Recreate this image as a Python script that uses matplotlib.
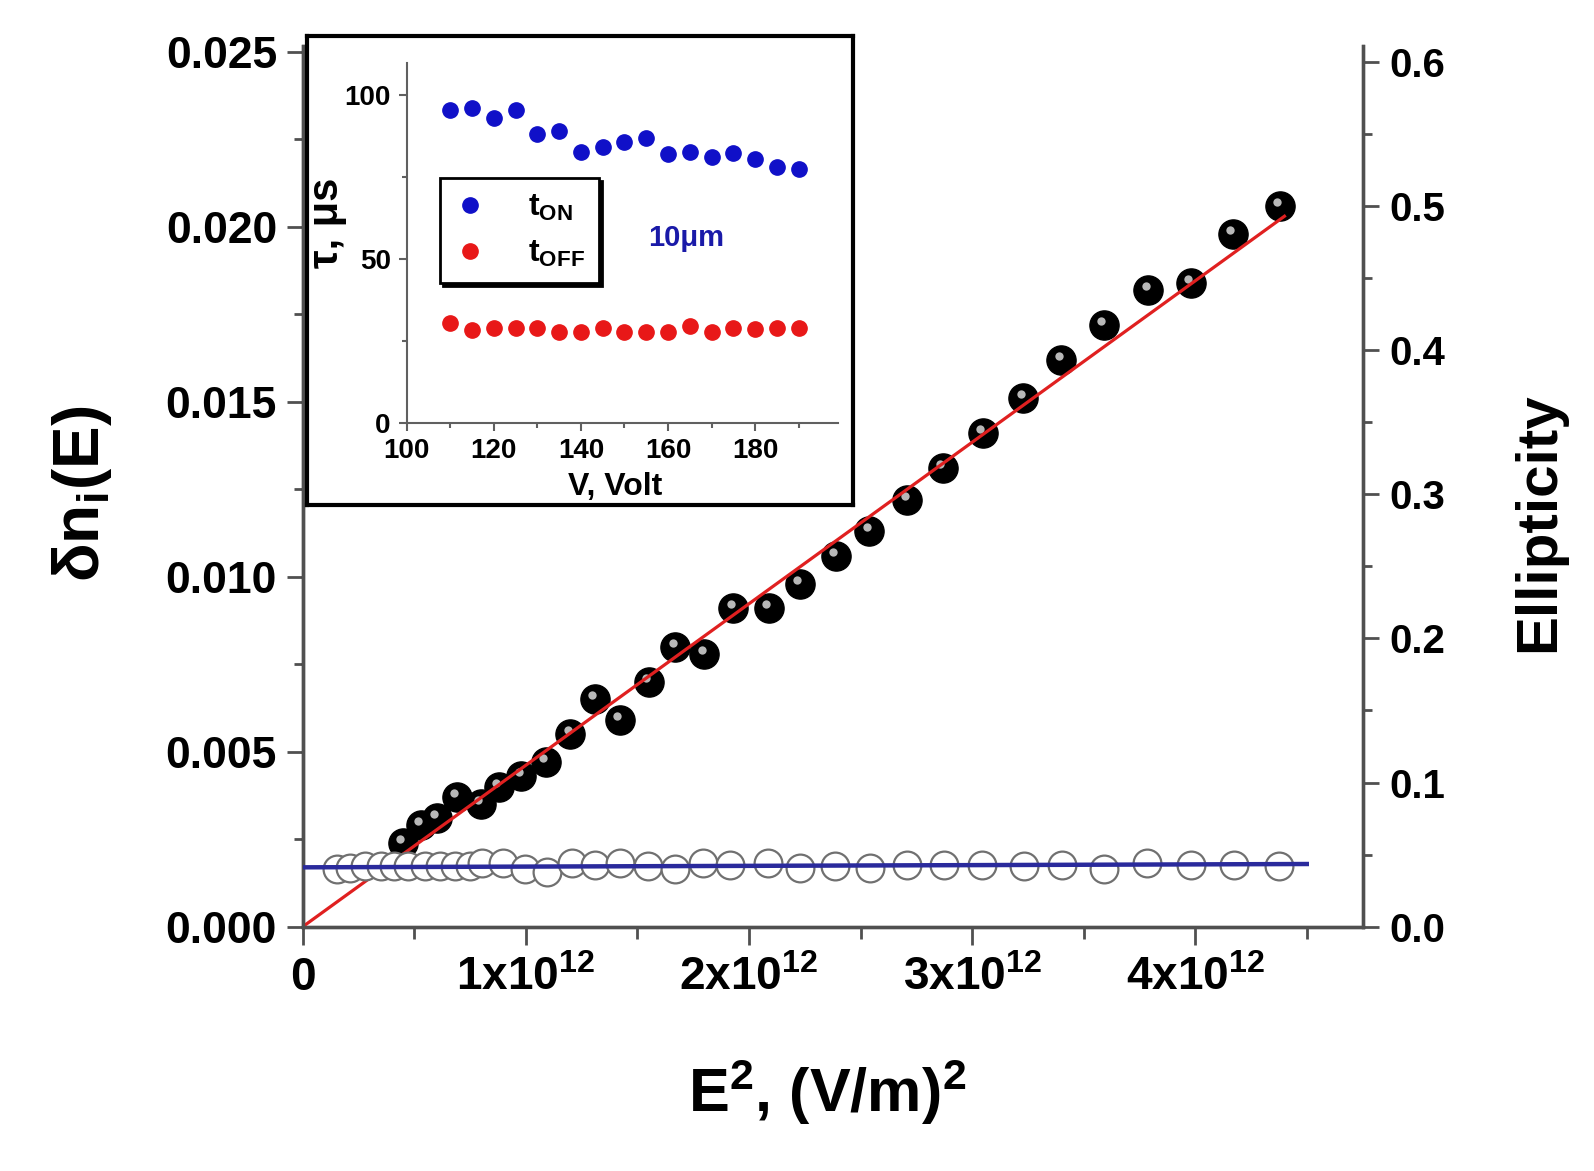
import matplotlib
matplotlib.use("Agg")
import matplotlib.pyplot as plt
import matplotlib.transforms as mtransforms
from matplotlib.ticker import FixedLocator, FixedFormatter, MultipleLocator, FormatStrFormatter
from matplotlib.lines import Line2D

plt.rcParams['font.family'] = ['Liberation Sans', 'DejaVu Sans']
plt.rcParams['font.weight'] = 'bold'
plt.rcParams['mathtext.fontset'] = 'custom'
plt.rcParams['mathtext.rm'] = 'Liberation Sans:bold'
plt.rcParams['mathtext.it'] = 'Liberation Sans:bold'
plt.rcParams['mathtext.bf'] = 'Liberation Sans:bold'
plt.rcParams['mathtext.sf'] = 'Liberation Sans:bold'

# main plot: birefringence dn_i(E) vs E^2 (filled) and ellipticity (open)
e2_dn = [0.45, 0.53, 0.60, 0.69, 0.80, 0.88, 0.98, 1.09, 1.20, 1.31, 1.42, 1.55, 1.67, 1.80, 1.93,
         2.09, 2.23, 2.39, 2.54, 2.71, 2.87, 3.05, 3.23, 3.40, 3.59, 3.79, 3.98, 4.17, 4.38]
dn = [0.0024, 0.0029, 0.0031, 0.0037, 0.0035, 0.0040, 0.0043, 0.0047, 0.0055, 0.0065, 0.0059, 0.0070,
      0.0080, 0.0078, 0.0091, 0.0091, 0.0098, 0.0106, 0.0113, 0.0122, 0.0131, 0.0141, 0.0151, 0.0162,
      0.0172, 0.0182, 0.0184, 0.0198, 0.0206]
fit_dn_x = [0.0, 4.40]
fit_dn_y = [0.0, 0.0203]

e2_ell = [0.152, 0.212, 0.279, 0.35, 0.41, 0.47, 0.548, 0.615, 0.683, 0.75, 0.803, 0.898, 0.997, 1.094,
          1.206, 1.311, 1.423, 1.548, 1.669, 1.795, 1.916, 2.087, 2.23, 2.387, 2.544, 2.707, 2.873,
          3.045, 3.231, 3.404, 3.59, 3.785, 3.979, 4.173, 4.375]
ell = [0.040, 0.041, 0.042, 0.042, 0.042, 0.042, 0.042, 0.042, 0.042, 0.042, 0.044, 0.044, 0.040,
       0.038, 0.044, 0.043, 0.044, 0.042, 0.040, 0.044, 0.043, 0.044, 0.041, 0.042, 0.041, 0.043,
       0.043, 0.043, 0.042, 0.043, 0.040, 0.044, 0.043, 0.043, 0.042]
fit_ell_x = [0.0, 4.50]
fit_ell_y = [0.0412, 0.0435]

xtick_vals = [0, 1, 2, 3, 4]
xtick_labels = ['0', '1x10$^{12}$', '2x10$^{12}$', '3x10$^{12}$', '4x10$^{12}$']

# inset: response times vs voltage
volts = [110, 115, 120, 125, 130, 135, 140, 145, 150, 155, 160, 165, 170, 175, 180, 185, 190]
t_on = [95.4, 96.2, 92.9, 95.6, 88.3, 89.0, 82.7, 84.3, 85.8, 86.8, 82.0, 82.7, 81.2, 82.4, 80.4,
        78.2, 77.4]
t_off = [30.5, 28.4, 29.1, 29.1, 29.1, 27.9, 27.9, 29.1, 27.9, 27.9, 27.9, 29.6, 27.9, 29.1, 28.7,
         29.1, 29.1]

scale = 1e12
ex = [v * scale for v in e2_dn]
ee = [v * scale for v in e2_ell]

fig = plt.figure(figsize=(15.94, 11.71), dpi=100)
ax = fig.add_axes([0.1899, 0.2086, 0.6649, 0.7523])
ax2 = ax.twinx()

ax.plot(ex, dn, 'o', color='black', ms=21, mec='black', zorder=3)
# small highlight on each ball
hl = mtransforms.offset_copy(ax.transData, fig=fig, x=-2, y=3, units='points')
ax.plot(ex, dn, 'o', color='#b8b8b8', ms=6, mew=0, transform=hl, zorder=4)
ax.plot([v * scale for v in fit_dn_x], fit_dn_y, '-', color='#e02020', lw=2.3, zorder=5)

ax2.plot(ee, ell, 'o', mfc='white', mec='#707070', mew=1.6, ms=20, zorder=3)
ax2.plot([v * scale for v in fit_ell_x], fit_ell_y, '-', color='#2a2a9c', lw=3.2, zorder=4)

ax.set_xlim(0, 4.75e12)
ax.set_ylim(0, 0.02517)
ax2.set_ylim(0, 0.611)

for a in (ax, ax2):
    a.spines['top'].set_visible(False)
    for s in ('left', 'right', 'bottom'):
        a.spines[s].set_color('#505050')
        a.spines[s].set_linewidth(2.4)
ax.spines['left'].set_color('#222222')

ax.xaxis.set_major_locator(FixedLocator([v * scale for v in xtick_vals]))
ax.xaxis.set_major_formatter(FixedFormatter(xtick_labels))
ax.xaxis.set_minor_locator(MultipleLocator(0.5e12))
ax.yaxis.set_major_locator(MultipleLocator(0.005))
ax.yaxis.set_minor_locator(MultipleLocator(0.0025))
ax.yaxis.set_major_formatter(FormatStrFormatter('%.3f'))
ax2.yaxis.set_major_locator(MultipleLocator(0.1))
ax2.yaxis.set_minor_locator(MultipleLocator(0.05))
ax2.yaxis.set_major_formatter(FormatStrFormatter('%.1f'))

ax.tick_params(axis='x', which='major', direction='out', length=13, width=2, color='#505050',
               labelsize=33, pad=8)
ax.tick_params(axis='x', which='minor', direction='out', length=8.5, width=2, color='#505050')
ax.tick_params(axis='y', which='major', direction='out', length=11.5, width=2, color='#505050',
               labelsize=32, pad=7)
ax.tick_params(axis='y', which='minor', direction='out', length=6.5, width=2, color='#505050')
ax2.tick_params(axis='y', which='major', direction='out', length=11.5, width=2, color='#505050',
                labelsize=29, pad=8)
ax2.tick_params(axis='y', which='minor', direction='out', length=6.5, width=2, color='#505050')

fig.text(0.0514, 0.578, 'δn$_{i}$(E)', rotation=90, fontsize=46, ha='center', va='center')
fig.text(0.519, 0.0675, 'E$^{2}$, (V/m)$^{2}$', fontsize=44, ha='center', va='center')
fig.text(0.9655, 0.554, 'Ellipticity', rotation=90, fontsize=42, ha='center', va='center')

# inset frame
frame = fig.add_axes([0.1926, 0.5688, 0.3425, 0.4005], zorder=10)
frame.set_xticks([])
frame.set_yticks([])
frame.set_facecolor('white')
for s in frame.spines.values():
    s.set_linewidth(3)
    s.set_color('black')

ins = fig.add_axes([0.2551, 0.6385, 0.2706, 0.3074], zorder=11)
ins.set_facecolor('none')
ins.plot(volts, t_on, 'o', color='#1010c8', ms=11)
ins.plot(volts, t_off, 'o', color='#e81818', ms=11)
ins.set_xlim(100, 199)
ins.set_ylim(0, 109.7)
ins.spines['top'].set_visible(False)
ins.spines['right'].set_visible(False)
for s in ('left', 'bottom'):
    ins.spines[s].set_color('#606060')
    ins.spines[s].set_linewidth(1.5)
ins.xaxis.set_major_locator(MultipleLocator(20))
ins.xaxis.set_minor_locator(MultipleLocator(10))
ins.yaxis.set_major_locator(MultipleLocator(50))
ins.yaxis.set_minor_locator(MultipleLocator(25))
ins.tick_params(which='major', direction='out', length=5.5, width=1.5, color='#606060', labelsize=20)
ins.tick_params(which='minor', direction='out', length=3.5, width=1.5, color='#606060')
ins.tick_params(axis='x', pad=5)
ins.tick_params(axis='y', pad=6)

fig.text(0.205, 0.8096, 'τ, μs', rotation=90, fontsize=30, ha='center', va='center', zorder=12)
fig.text(0.3858, 0.5845, 'V, Volt', fontsize=23, ha='center', va='center', zorder=12)
fig.text(0.4303, 0.7968, '10μm', fontsize=21, color='#1a1aa8', ha='center', va='center', zorder=12)

handles = [Line2D([], [], ls='none', marker='o', color='#1010c8', ms=11),
           Line2D([], [], ls='none', marker='o', color='#e81818', ms=11)]
leg = ins.legend(handles, [r'$\mathregular{t_{ON}}$', r'$\mathregular{t_{OFF}}$'],
                 loc='upper left', bbox_to_anchor=(0.276, 0.8477), bbox_transform=fig.transFigure,
                 fontsize=23, frameon=True, fancybox=False, shadow={'color': 'black', 'alpha': 1},
                 handlelength=1.0, handletextpad=1.3, borderpad=0.45, labelspacing=0.5,
                 borderaxespad=0)
leg.get_frame().set_edgecolor('black')
leg.get_frame().set_linewidth(2)

fig.savefig('out.png', dpi=100)
